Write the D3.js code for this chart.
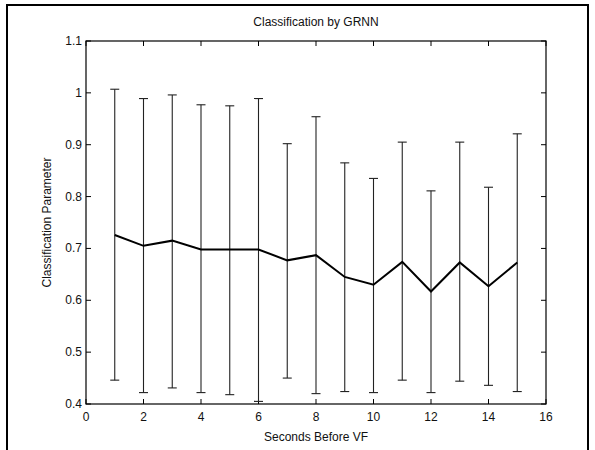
<!DOCTYPE html>
<html>
<head>
<meta charset="utf-8">
<script src="https://cdn.jsdelivr.net/npm/d3@7"></script>
<style>
  body { margin: 0; background: #fff; }
  svg text { font-family: "Liberation Sans", Arial, sans-serif; fill: #111; }
</style>
</head>
<body>
<div id="chart"></div>
<script>
// Classification by GRNN - mean with error bars

// data
var seconds = [1, 2, 3, 4, 5, 6, 7, 8, 9, 10, 11, 12, 13, 14, 15];
var meanVals = [0.726, 0.705, 0.715, 0.698, 0.698, 0.698, 0.677, 0.687, 0.645, 0.630, 0.674, 0.617, 0.673, 0.627, 0.673];
var upperVals = [1.007, 0.989, 0.996, 0.977, 0.975, 0.989, 0.902, 0.954, 0.865, 0.835, 0.905, 0.811, 0.905, 0.818, 0.921];
var lowerVals = [0.446, 0.422, 0.431, 0.422, 0.418, 0.405, 0.450, 0.420, 0.424, 0.422, 0.446, 0.422, 0.444, 0.436, 0.424];
var xTicks = [0, 2, 4, 6, 8, 10, 12, 14, 16];
var yTicks = [0.4, 0.5, 0.6, 0.7, 0.8, 0.9, 1, 1.1];

// layout
var w = 595;
var h = 450;
var plotL = 86, plotR = 546, plotT = 41, plotB = 404;
var tickLen = 5;
var capHalf = 4.5;

var x = d3.scaleLinear().domain([0, 16]).range([plotL, plotR]);
var y = d3.scaleLinear().domain([0.4, 1.1]).range([plotB, plotT]);

var svg = d3.select("#chart")
    .append("svg")
    .attr("width", w)
    .attr("height", h);

// outer frame
svg.append("rect")
    .attr("x", 7).attr("y", 5)
    .attr("width", 581).attr("height", 460)
    .attr("fill", "none")
    .attr("stroke", "#000")
    .attr("stroke-width", 2);

// axes box
svg.append("rect")
    .attr("x", plotL).attr("y", plotT)
    .attr("width", plotR - plotL).attr("height", plotB - plotT)
    .attr("fill", "none")
    .attr("stroke", "#000")
    .attr("stroke-width", 1.2);

// inward ticks, all four sides
var tickG = svg.append("g").attr("stroke", "#000").attr("stroke-width", 1);
xTicks.forEach(function(t) {
    tickG.append("line").attr("x1", x(t)).attr("x2", x(t)).attr("y1", plotB).attr("y2", plotB - tickLen);
    tickG.append("line").attr("x1", x(t)).attr("x2", x(t)).attr("y1", plotT).attr("y2", plotT + tickLen);
});
yTicks.forEach(function(t) {
    tickG.append("line").attr("x1", plotL).attr("x2", plotL + tickLen).attr("y1", y(t)).attr("y2", y(t));
    tickG.append("line").attr("x1", plotR).attr("x2", plotR - tickLen).attr("y1", y(t)).attr("y2", y(t));
});

// tick labels
svg.selectAll(".xlab")
    .data(xTicks)
    .enter()
    .append("text")
    .attr("x", function(d) { return x(d); })
    .attr("y", plotB + 17)
    .attr("text-anchor", "middle")
    .style("font-size", "12px")
    .text(function(d) { return d; });

svg.selectAll(".ylab")
    .data(yTicks)
    .enter()
    .append("text")
    .attr("x", plotL - 4)
    .attr("y", function(d) { return y(d) + 4; })
    .attr("text-anchor", "end")
    .style("font-size", "12px")
    .text(function(d) { return d; });

// error bars
var eb = svg.append("g").attr("stroke", "#222").attr("stroke-width", 1.1);
seconds.forEach(function(s, i) {
    eb.append("line").attr("x1", x(s)).attr("x2", x(s)).attr("y1", y(upperVals[i])).attr("y2", y(lowerVals[i]));
    eb.append("line").attr("x1", x(s) - capHalf).attr("x2", x(s) + capHalf).attr("y1", y(upperVals[i])).attr("y2", y(upperVals[i]));
    eb.append("line").attr("x1", x(s) - capHalf).attr("x2", x(s) + capHalf).attr("y1", y(lowerVals[i])).attr("y2", y(lowerVals[i]));
});

// mean line
var line = d3.line()
    .x(function(d, i) { return x(seconds[i]); })
    .y(function(d) { return y(d); });

svg.append("path")
    .datum(meanVals)
    .attr("d", line)
    .attr("fill", "none")
    .attr("stroke", "#000")
    .attr("stroke-width", 2);

// titles
svg.append("text")
    .attr("x", (plotL + plotR) / 2)
    .attr("y", 26)
    .attr("text-anchor", "middle")
    .style("font-size", "12px")
    .text("Classification by GRNN");

svg.append("text")
    .attr("x", (plotL + plotR) / 2)
    .attr("y", 441)
    .attr("text-anchor", "middle")
    .style("font-size", "12px")
    .text("Seconds Before VF");

svg.append("text")
    .attr("transform", "translate(51," + ((plotT + plotB) / 2) + ") rotate(-90)")
    .attr("text-anchor", "middle")
    .style("font-size", "12px")
    .text("Classification Parameter");
</script>
</body>
</html>
